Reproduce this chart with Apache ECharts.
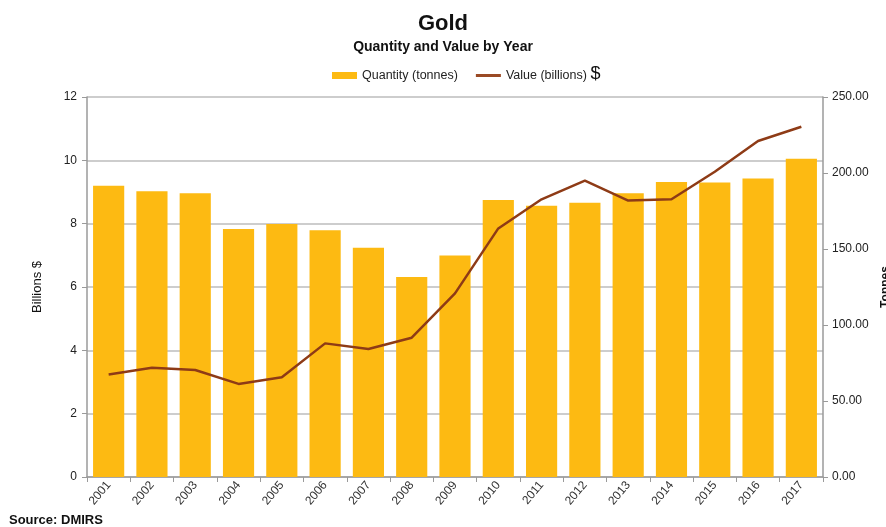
<!DOCTYPE html>
<html>
<head>
<meta charset="utf-8">
<script src="https://cdn.jsdelivr.net/npm/echarts@6/dist/echarts.min.js"></script>
<style>
html,body{margin:0;padding:0;background:#fff;}
#chart{width:886px;height:527px;}
</style>
</head>
<body>
<div id="chart"></div>
<script>
const years = ['2001','2002','2003','2004','2005','2006','2007','2008','2009','2010','2011','2012','2013','2014','2015','2016','2017'];
const quantityTonnes = [191.6, 188.0, 186.6, 163.2, 166.4, 162.3, 150.9, 131.6, 145.8, 182.2, 178.5, 180.5, 186.6, 194.1, 193.8, 196.3, 209.4];
const valueBillions = [3.24, 3.45, 3.38, 2.94, 3.15, 4.22, 4.04, 4.40, 5.80, 7.85, 8.77, 9.36, 8.73, 8.77, 9.64, 10.61, 11.06];
const leftTicks = [0, 2, 4, 6, 8, 10, 12];
const rightTicks = ['0.00', '50.00', '100.00', '150.00', '200.00', '250.00'];

const chart = echarts.init(document.getElementById('chart'));
const font = 'Liberation Sans, Arial, sans-serif';
chart.setOption({
  backgroundColor: '#ffffff',
  animation: false,
  textStyle: { fontFamily: font },
  title: [
    { text: 'Gold', left: 'center', top: 8, textStyle: { fontSize: 22, fontWeight: 'bold', color: '#111', fontFamily: font } },
    { text: 'Quantity and Value by Year', left: 'center', top: 35, textStyle: { fontSize: 14, fontWeight: 'bold', color: '#111', fontFamily: font } },
    { text: 'Source: DMIRS', left: 4, top: 509, textStyle: { fontSize: 13, fontWeight: 'bold', color: '#111', fontFamily: font } }
  ],
  legend: {
    top: 60, left: 332,
    itemWidth: 25, itemHeight: 7, itemGap: 18, padding: [5, 5, 5, 0],
    textStyle: {
      fontSize: 12.5, color: '#222', fontFamily: font,
      rich: { d: { fontSize: 18, color: '#111', fontFamily: font, padding: [0, 0, 3, 0] } }
    },
    formatter: function (n) { return n === 'Value (billions)' ? n + ' {d|$}' : n; },
    data: [
      { name: 'Quantity (tonnes)', icon: 'rect' },
      { name: 'Value (billions)', icon: 'path://M0 0H100V12H0Z' }
    ]
  },
  grid: { left: 87, right: 63, top: 97, bottom: 50, outerBoundsMode: 'none', containLabel: false },
  xAxis: {
    type: 'category',
    data: years,
    axisLine: { lineStyle: { color: '#9a9a9a', width: 1.5 } },
    axisTick: { show: true, alignWithLabel: false, length: 5, lineStyle: { color: '#9a9a9a' } },
    axisLabel: { rotate: 50, fontSize: 12, color: '#333', margin: 6, interval: 0, fontFamily: font }
  },
  yAxis: [
    {
      type: 'value', min: 0, max: 12, interval: 2,
      name: 'Billions $', nameLocation: 'middle', nameGap: 43, nameRotate: 90, nameMoveOverlap: false,
      nameTextStyle: { fontSize: 13, color: '#111', fontFamily: font },
      axisLine: { show: true, lineStyle: { color: '#9a9a9a', width: 1.5 } },
      axisTick: { show: true, length: 5, lineStyle: { color: '#9a9a9a' } },
      axisLabel: { fontSize: 12, color: '#222', margin: 10, fontFamily: font },
      splitLine: { show: true, lineStyle: { color: '#bdbdbd', width: 1.5 } }
    },
    {
      type: 'value', min: 0, max: 250, interval: 50, position: 'right',
      name: 'Tonnes', nameLocation: 'middle', nameGap: 57, nameRotate: 90, nameMoveOverlap: false,
      nameTextStyle: { fontSize: 12, fontWeight: 'bold', color: '#111', fontFamily: font },
      axisLine: { show: true, lineStyle: { color: '#9a9a9a', width: 1.5 } },
      axisTick: { show: true, length: 5, lineStyle: { color: '#9a9a9a' } },
      axisLabel: { fontSize: 12, color: '#222', margin: 9, fontFamily: font,
        formatter: function (v) { return rightTicks[Math.round(v / 50)]; } },
      splitLine: { show: false }
    }
  ],
  series: [
    {
      name: 'Quantity (tonnes)', type: 'bar', yAxisIndex: 1,
      data: quantityTonnes, barCategoryGap: '28%',
      itemStyle: { color: '#FDBA12' }
    },
    {
      name: 'Value (billions)', type: 'line', yAxisIndex: 0,
      data: valueBillions, symbol: 'none',
      lineStyle: { color: '#8E3B16', width: 2.5 },
      itemStyle: { color: '#9A4A25' }
    }
  ]
});
</script>
</body>
</html>
